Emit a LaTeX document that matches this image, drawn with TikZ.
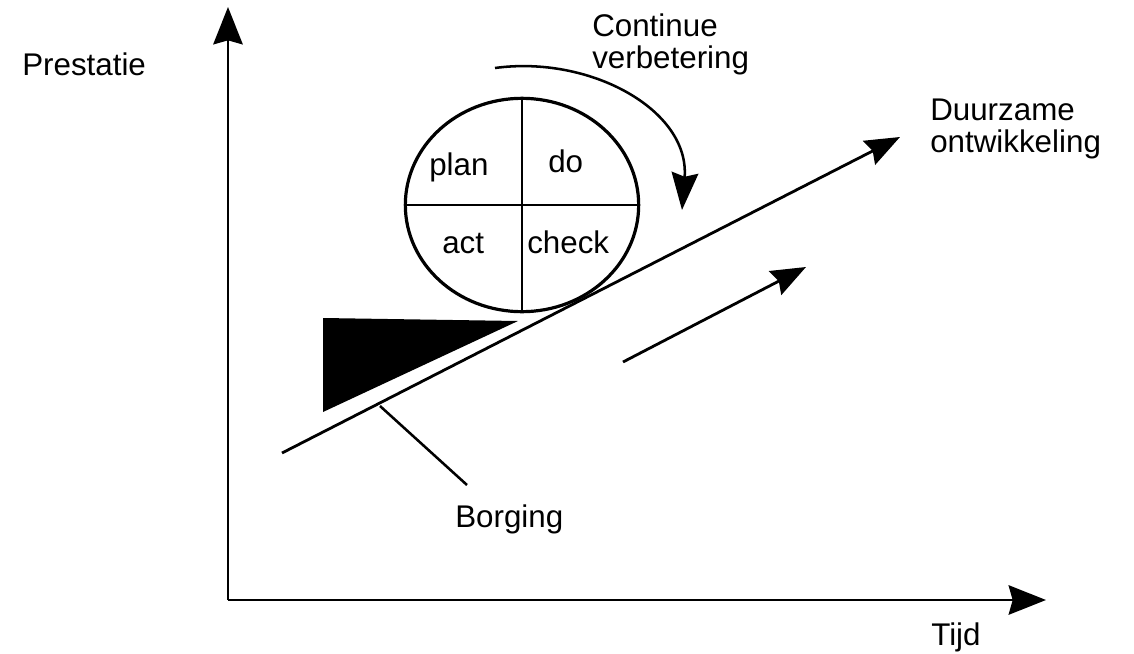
\documentclass[tikz,border=0pt]{standalone}
\usepackage{fontspec}
\setmainfont{Liberation Sans}
\usetikzlibrary{arrows.meta,shapes.geometric}
\begin{document}
\begin{tikzpicture}[x=0.75pt,y=-0.75pt,
  lbl/.style={font=\fontsize{23.5}{23.3}\selectfont, inner sep=0pt, anchor=base west},
  axis/.style={line width=2.2pt, -{Stealth[length=28pt,width=22pt,inset=3pt]}},
  thick line/.style={line width=2.1pt},
  bigtip/.style={-{Stealth[length=26pt,width=20pt,inset=3pt]}}]
\useasboundingbox (0,0) rectangle (1134,653);
% axes
\coordinate (O) at (228,600);
\coordinate (ytop) at (228,7);
\coordinate (xend) at (1046,600);
\draw[axis] (O) -- (ytop);
\draw[axis] (O) -- (xend);
\node[lbl] (prest) at (22,75) {Prestatie};
\node[lbl] (tijd) at (931,645) {Tijd};
% main development line
\coordinate (ls) at (282,453);
\coordinate (le) at (900,137);
\draw[thick line, bigtip] (ls) -- (le);
\node[lbl, align=left] (duur) at (930,152) {Duurzame\\ontwikkeling};
% second arrow
\coordinate (as) at (623,362);
\coordinate (ae) at (806,267);
\draw[thick line, bigtip] (as) -- (ae);
% wedge (borging)
\fill (323,318) -- (518,321) -- (323,412) -- cycle;
\coordinate (bs) at (380,406);
\coordinate (be) at (467,485);
\draw[line width=1.9pt] (bs) -- (be);
\node[lbl] (borg) at (455,527) {Borging};
% PDCA wheel
\node[draw, ellipse, line width=2.4pt, minimum width=175pt, minimum height=160pt, inner sep=0pt] (pdca) at (522,205) {};
\draw[line width=1.7pt] (pdca.north) -- (pdca.south);
\draw[line width=1.7pt] (pdca.west) -- (pdca.east);
\node[lbl] (plan) at (429,175) {plan};
\node[lbl] (do) at (548,172) {do};
\node[lbl] (act) at (442,253) {act};
\node[lbl] (check) at (527,253) {check};
% continue arrow
\coordinate (cs) at (495,68);
\coordinate (ce) at (682,210);
\draw[line width=1.9pt, -{Stealth[length=28pt,width=20pt,inset=3pt]}] (cs) .. controls (590,55) and (690,110) .. (ce);
\node[lbl, align=left] (cont) at (592,68) {Continue\\verbetering};
\end{tikzpicture}
\end{document}
